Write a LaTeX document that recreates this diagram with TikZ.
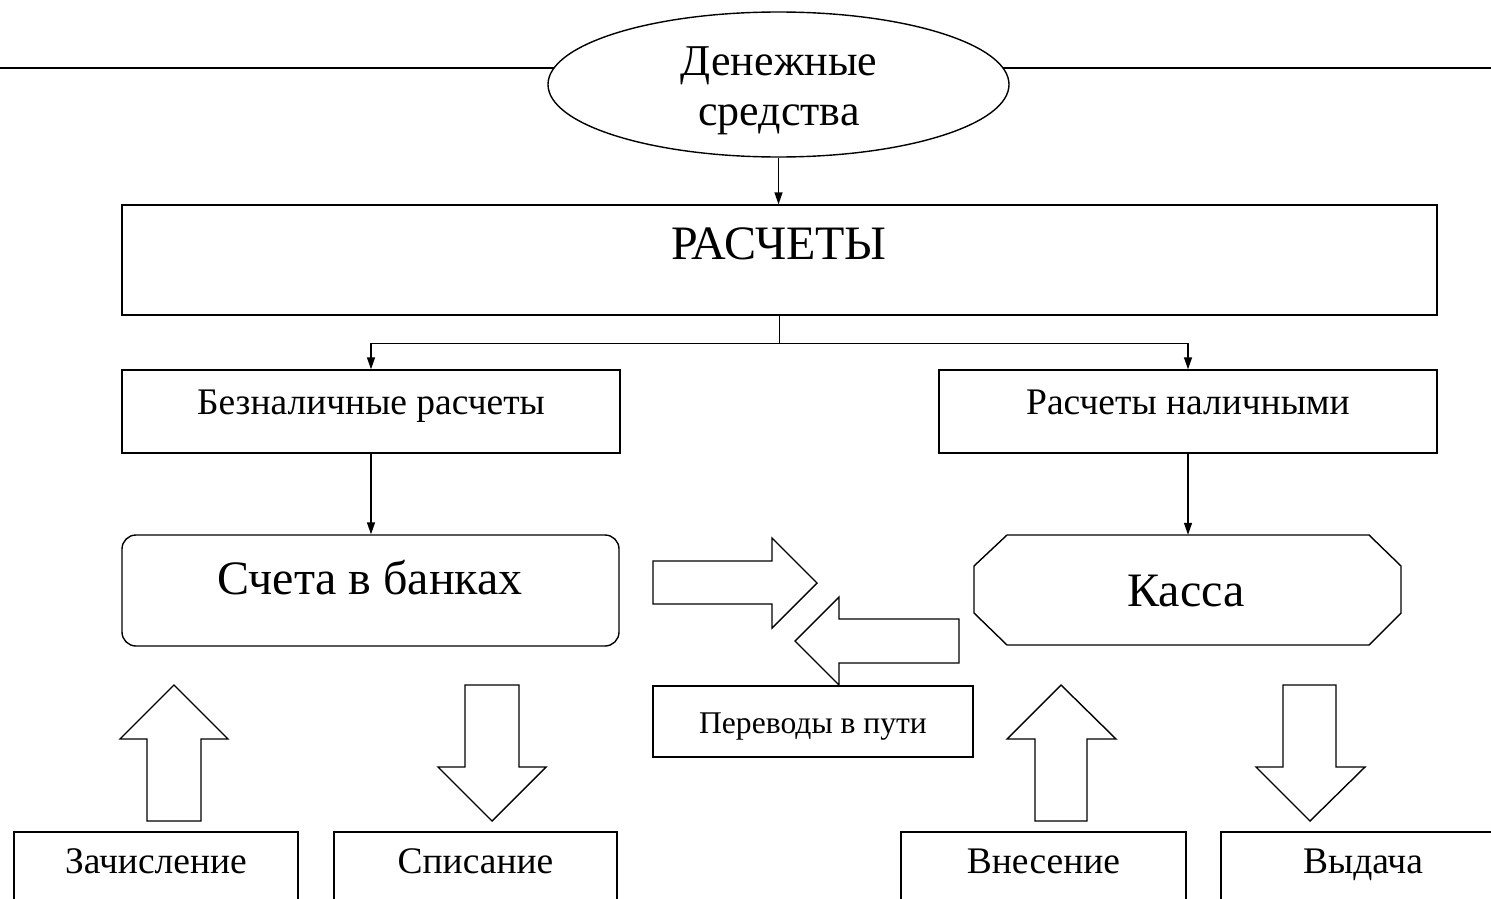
\documentclass[tikz,border=0pt]{standalone}
\usepackage{fontspec}
\setmainfont{Liberation Serif}
\usetikzlibrary{arrows.meta,shapes.geometric}
\begin{document}
\begin{tikzpicture}[x=1pt,y=-1pt,
  boxline/.style={line width=1.4pt},
  conn/.style={line width=1.4pt,-{Triangle[length=12pt,width=8pt]}},
  plainbox/.style={draw,boxline,inner sep=0pt,fill=white},
  blockarrow/.style={draw,boxline,line join=miter,fill=white},
  txtbig/.style={font=\fontsize{48}{52}\selectfont,inner sep=0pt,anchor=base},
  txtmid/.style={font=\fontsize{37.5}{41}\selectfont,inner sep=0pt,anchor=base},
  txtsmall/.style={font=\fontsize{37.5}{41}\selectfont,inner sep=0pt,anchor=base},
  txtell/.style={font=\fontsize{44}{48}\selectfont,inner sep=0pt,anchor=base}]
\path[use as bounding box] (0,0) rectangle (1491,899);
\clip (0,0) rectangle (1491,899);
% top line and ellipse
\coordinate (lineL) at (0,67.7);
\coordinate (lineR) at (1491,67.7);
\draw[line width=2.3pt] (lineL) -- (lineR);
\node[ellipse,draw,line width=1.4pt,fill=white,inner sep=0pt,minimum width=461pt,minimum height=145pt] (money) at (778.5,84.5) {};
\node[txtell] (money1) at (779,75) {Денежные};
\node[txtell] (money2) at (779,125) {средства};
% main boxes
\node[plainbox,minimum width=1315pt,minimum height=110pt] (calc) at (779.5,260) {};
\node[txtbig] (calct) at (779,259) {РАСЧЕТЫ};
\node[plainbox,minimum width=498pt,minimum height=83pt] (bez) at (371,411.5) {};
\node[txtmid] (bezt) at (371,414) {Безналичные расчеты};
\node[plainbox,minimum width=498pt,minimum height=83pt] (nal) at (1188,411.5) {};
\node[txtmid] (nalt) at (1188,414) {Расчеты наличными};
\node[plainbox,rounded corners=14pt,minimum width=497pt,minimum height=111pt] (bank) at (370.5,590.5) {};
\node[txtbig] (bankt) at (370,594) {Счета в банках};
\node[inner sep=0pt,minimum width=427pt,minimum height=110pt] (kassa) at (1187.5,590) {};
\draw[boxline,line join=miter] (974,566) -- (1007,535) -- (1369,535) -- (1401,566) -- (1401,613) -- (1369,645) -- (1007,645) -- (974,613) -- cycle;
\node[txtbig] (kassat) at (1186,606) {Касса};
\node[plainbox,minimum width=320pt,minimum height=71pt] (perev) at (813,721.5) {};
\node[font=\fontsize{31.6}{35}\selectfont,inner sep=0pt,anchor=base] (perevt) at (813,733) {Переводы в пути};
% bottom boxes
\node[plainbox,minimum width=284pt,minimum height=108pt] (zach) at (156,886) {};
\node[txtsmall] (zacht) at (156,873) {Зачисление};
\node[plainbox,minimum width=283pt,minimum height=108pt] (spis) at (475.5,886) {};
\node[txtsmall] (spist) at (475.5,873) {Списание};
\node[plainbox,minimum width=285pt,minimum height=108pt] (vnes) at (1043.5,886) {};
\node[txtsmall] (vnest) at (1043.5,873) {Внесение};
\node[plainbox,minimum width=284pt,minimum height=108pt] (vyd) at (1363,886) {};
\node[txtsmall] (vydt) at (1363,873) {Выдача};
% connectors
\draw[conn] (money.south) -- (money.south |- calc.north);
\draw[boxline] (calc.south) -- ++(0,28) coordinate (split);
\draw[conn] (split) -| (bez.north);
\draw[conn] (split) -| (nal.north);
\draw[conn] (bez.south) -- (bez.south |- bank.north);
\draw[conn] (nal.south) -- (nal.south |- kassa.north);
% block arrows
\draw[blockarrow] (653,561) -- (772,561) -- (772,538) -- (817,583) -- (772,628) -- (772,604) -- (653,604) -- cycle;
\draw[blockarrow] (959,619) -- (839,619) -- (839,597) -- (795,641) -- (839,685) -- (839,663) -- (959,663) -- cycle;
\draw[blockarrow] (147,821) -- (147,739) -- (120,739) -- (174,685) -- (228,739) -- (201,739) -- (201,821) -- cycle;
\draw[blockarrow] (465,685) -- (519,685) -- (519,767) -- (546,767) -- (492,821) -- (438,767) -- (465,767) -- cycle;
\draw[blockarrow] (1035,821) -- (1035,739) -- (1007,739) -- (1061,685) -- (1116,739) -- (1087,739) -- (1087,821) -- cycle;
\draw[blockarrow] (1283,685) -- (1336,685) -- (1336,767) -- (1365,767) -- (1310,821) -- (1256,767) -- (1283,767) -- cycle;
\end{tikzpicture}
\end{document}
